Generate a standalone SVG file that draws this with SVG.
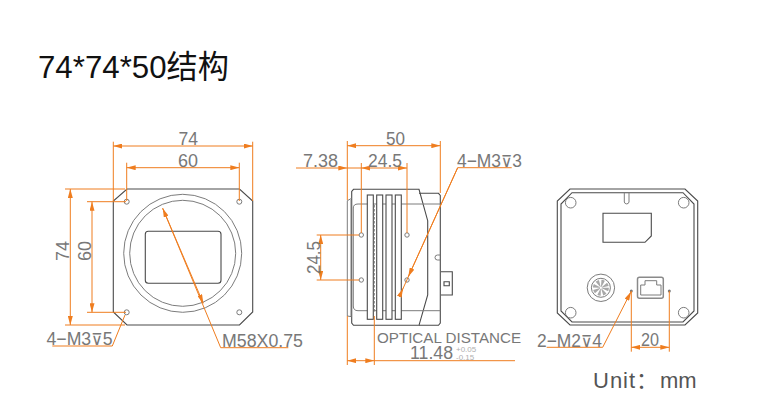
<svg xmlns="http://www.w3.org/2000/svg" width="774" height="418" viewBox="0 0 774 418">
<style>
.b{fill:none;stroke:#4a4a4a;stroke-width:1.100}
.l{fill:none;stroke:#7c7c7c;stroke-width:1}
.o{fill:none;stroke:#ef7d1f;stroke-width:1}
.t{font-family:"Liberation Sans",Arial,sans-serif;fill:#787878;font-size:18px}
.d{font-family:"DejaVu Sans",sans-serif;font-size:16px}
.s{font-size:15px}
.m{font-size:8px;fill:#b0b0b0}
.a{fill:#ef7d1f;stroke:none}
</style>
<defs>
<marker id="ar" viewBox="0 0 9 5" refX="9" refY="2.500" markerWidth="9" markerHeight="5" markerUnits="userSpaceOnUse" orient="auto-start-reverse"><path class="a" d="M0 0L9 2.500L0 5Z"/></marker>
</defs>
<rect width="774" height="418" fill="#fff"/>
<text id="title" x="38" y="78" font-family="Liberation Sans,Noto Sans CJK SC,sans-serif" font-size="32" fill="#111" textLength="191" lengthAdjust="spacingAndGlyphs">74*74*50结构</text>
<g id="front">
<path class="b" d="M127 189H239.500L252.700 201V312L239.500 325H127L113.300 312V201Z"/>
<circle class="l" cx="182.700" cy="253.300" r="59"/><circle class="l" cx="182.700" cy="253.300" r="53"/>
<rect class="b" x="145.300" y="231.300" width="75.700" height="52" rx="3"/>
<circle class="l" cx="126.700" cy="201.700" r="2.500"/><circle class="l" cx="239.300" cy="201.700" r="2.500"/><circle class="l" cx="126.700" cy="312.300" r="2.500"/><circle class="l" cx="239.300" cy="312.300" r="2.500"/>
</g>
<g id="side">
<path class="b" d="M353.500 189.300H419L427.700 220.700V295L419 325.300H353.500L351.700 323V191.500Z"/>
<path class="b" d="M419 193.300H438.500L440.300 195.500V323L438.500 325.300H419"/>
<path class="l" d="M347.300 200.700L351.700 198.300M347.300 200.700V316L351.700 316.700M351 200V316"/>
<path class="l" d="M440.300 204H358Q353.300 204 353.300 208V306Q353.300 310.700 358 310.700H440.300"/>
<g><rect class="b" style="fill:#fff" x="367.300" y="195" width="6" height="124.300"/><rect class="b" style="fill:#fff" x="376.700" y="195" width="6" height="124.300"/><rect class="b" style="fill:#fff" x="386" y="195" width="6" height="124.300"/><rect class="b" style="fill:#fff" x="395.300" y="195" width="6" height="124.300"/></g>
<path class="l" d="M374.300 205V312" stroke-dasharray="2.500 1.500"/>
<circle class="l" cx="361.300" cy="235" r="2.200"/><circle class="l" cx="407" cy="235" r="2.200"/><circle class="l" cx="361.300" cy="280" r="2.200"/><circle class="l" cx="407" cy="280" r="2.200"/>
<path class="l" d="M440 255H437.500A2.500 2.500 0 0 0 437.500 260H440"/>
<path class="b" d="M441 271.700H452.300V295H441M444 281.700H449.300V285.700H444Z"/>
</g>
<g id="back">
<path class="b" d="M570 189H685L697.700 201V313L685 325H570L557.300 313V201Z"/>
<path class="b" d="M572 192.700H683L694 204V311L683 322H572L561 311V204Z"/>
<path class="l" d="M624.300 193V202A2.400 2.400 0 0 0 629 202V193"/>
<circle class="l" cx="570.700" cy="202.700" r="5.300"/><circle class="l" cx="683.700" cy="202.700" r="5.300"/><circle class="l" cx="570.700" cy="312.700" r="5.300"/><circle class="l" cx="683.700" cy="312.700" r="5.300"/>
<path class="b" d="M603 213.300H651.300V236L645 242.300H603Z"/>
<circle class="l" cx="600.900" cy="287.800" r="13.700"/><circle class="l" cx="600.900" cy="287.800" r="9.500"/><circle cx="600.900" cy="287.800" r="4.500" fill="none" stroke="#a8a8a8" stroke-width="7" stroke-dasharray="2 1.500"/>
<rect x="637.500" y="277.300" width="25.800" height="21" rx="2" fill="none" stroke="#8a8a8a" stroke-width="1.500"/>
<path class="l" d="M640.700 295V285H645V280.700H656.700V285H661V295Z"/>
<circle cx="631.300" cy="291" r="1.500" fill="#777"/><circle cx="669.300" cy="291" r="1.500" fill="#777"/>
</g>
<g id="connectors">
<path class="o" d="M113.300 141.700V201M252.700 141.700V201M126.700 162.700V201M239.300 162.700V201M65 189H125M87 201.700H126M87 312.300H126M65 325H125"/>
<path class="o" marker-start="url(#ar)" marker-end="url(#ar)" d="M113.300 146H252.700"/>
<path class="o" marker-start="url(#ar)" marker-end="url(#ar)" d="M126.700 167.700H239.300"/>
<path class="o" marker-start="url(#ar)" marker-end="url(#ar)" d="M70.300 189V325"/>
<path class="o" marker-start="url(#ar)" marker-end="url(#ar)" d="M92 201.700V312.300"/>
<path class="o" d="M125 315L112.300 346H52.300"/>
<path class="o" marker-start="url(#ar)" d="M162.700 208.300L220.700 347.700H288.300"/>
<path class="o" marker-end="url(#ar)" d="M162.700 208.300L203.300 303.300"/>
<path class="o" d="M347.300 141V200M440.300 141V193M361.300 163V233M407 163V233M347.300 316V365M374.300 316V365M316.700 235H359M316.700 280H359"/>
<path class="o" marker-start="url(#ar)" marker-end="url(#ar)" d="M347.300 145.700H440.300"/>
<path class="o" marker-end="url(#ar)" d="M296 168H347.300"/>
<path class="o" marker-start="url(#ar)" marker-end="url(#ar)" d="M361.300 168H407"/>
<path class="o" d="M347.300 168H361.300"/>
<path class="o" marker-start="url(#ar)" marker-end="url(#ar)" d="M320.700 235V280"/>
<path class="o" d="M511.700 167.700H457.700L399.300 296.700"/>
<path class="o" marker-end="url(#ar)" d="M457.700 167.700L408.300 276.700"/>
<path class="o" marker-start="url(#ar)" d="M403 288.500L399.300 296.700"/>
<path class="o" marker-start="url(#ar)" marker-end="url(#ar)" d="M347.300 360.700H374.300"/>
<path class="o" d="M374.300 360.700H515"/>
<path class="o" marker-end="url(#ar)" d="M546.700 347.300H602.700L631 291.700"/>
<path class="o" d="M631.300 291V351.700M669.300 291V351.700"/>
<path class="o" marker-start="url(#ar)" marker-end="url(#ar)" d="M631.300 347.300H669.300"/>
</g>
<g id="labels">
<text class="t" x="178.500" y="145" textLength="19.500" lengthAdjust="spacingAndGlyphs">74</text>
<text class="t" x="178" y="167" textLength="20" lengthAdjust="spacingAndGlyphs">60</text>
<text class="t" transform="translate(69 261) rotate(-90)">74</text>
<text class="t" transform="translate(91 261) rotate(-90)">60</text>
<text class="t" x="46.500" y="345" textLength="66" lengthAdjust="spacingAndGlyphs">4−M3<tspan class="d">⊽</tspan>5</text>
<text class="t" x="222" y="347" textLength="81" lengthAdjust="spacingAndGlyphs">M58X0.75</text>
<text class="t" x="386" y="144.500" textLength="19" lengthAdjust="spacingAndGlyphs">50</text>
<text class="t" x="303" y="167" textLength="35" lengthAdjust="spacingAndGlyphs">7.38</text>
<text class="t" x="368" y="167" textLength="34" lengthAdjust="spacingAndGlyphs">24.5</text>
<text class="t" x="457" y="167" textLength="65" lengthAdjust="spacingAndGlyphs">4−M3<tspan class="d">⊽</tspan>3</text>
<text class="t" transform="translate(320 274) rotate(-90)" textLength="33" lengthAdjust="spacingAndGlyphs">24.5</text>
<text class="t s" x="377" y="342.500" textLength="144" lengthAdjust="spacingAndGlyphs">OPTICAL DISTANCE</text>
<text class="t" x="410" y="359" textLength="43" lengthAdjust="spacingAndGlyphs">11.48</text>
<text class="t m" x="456" y="351.500">+0.05</text>
<text class="t m" x="456" y="360">-0.15</text>
<text class="t" x="537" y="346.500" textLength="65" lengthAdjust="spacingAndGlyphs">2−M2<tspan class="d">⊽</tspan>4</text>
<text class="t" x="641" y="346" textLength="18" lengthAdjust="spacingAndGlyphs">20</text>
<text x="593" y="388" font-family="Liberation Sans,Noto Sans CJK SC,sans-serif" font-size="22" fill="#555"><tspan letter-spacing="1">Unit：</tspan><tspan x="660">mm</tspan></text>
</g>
</svg>
